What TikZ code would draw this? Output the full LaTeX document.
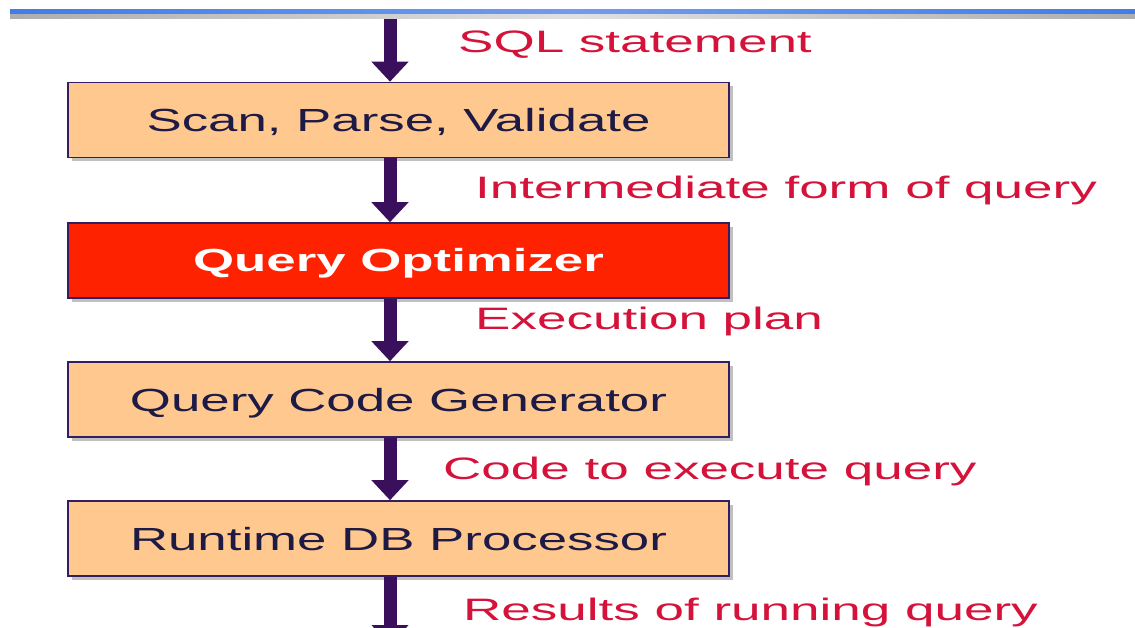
\documentclass[tikz,border=0pt]{standalone}
\usepackage{fontspec}
\setmainfont{Liberation Sans}
\newfontfamily\widefont[FakeStretch=1.65]{Liberation Sans}
\newfontfamily\lblfont[FakeStretch=1.71]{Liberation Sans}
\usetikzlibrary{arrows.meta,shadows}
\definecolor{peach}{RGB}{255,200,142}
\definecolor{optred}{RGB}{255,34,0}
\definecolor{edge}{RGB}{52,30,98}
\definecolor{flow}{RGB}{58,16,92}
\definecolor{lblred}{RGB}{212,18,58}
\definecolor{ink}{RGB}{30,26,70}
\definecolor{barblue}{RGB}{66,124,232}

\begin{document}
\begin{tikzpicture}[x=1pt,y=-1pt,
  stage/.style={draw=edge,line width=1.6pt,fill=peach,minimum width=661pt,minimum height=75pt,
    text height=23pt,text depth=0pt,inner sep=0pt,font=\widefont\fontsize{32}{32}\selectfont,text=ink,
    general shadow={fill=black!45,opacity=0.55,shadow xshift=4pt,shadow yshift=-4pt}},
  flowarrow/.style={flow,line width=13pt,-{Triangle[width=36pt,length=20pt]}},
  lbl/.style={anchor=base west,inner sep=0pt,text=lblred,font=\lblfont\fontsize{31}{31}\selectfont}]
  \useasboundingbox (0,0) rectangle (1135,628);
  \clip (0,0) rectangle (1135,628);
  % title rule
  \shade[left color=barblue,right color=barblue,middle color=barblue!75!white] (10,10) rectangle (1135,13.5);
  \shade[left color=black!32,right color=black!32,middle color=black!12] (10,14.5) rectangle (1135,19);
  % processing stages
  \node[stage] (scan) at (398.5,120) {Scan, Parse, Validate};
  \node[stage,fill=optred,text=white,font=\widefont\bfseries\fontsize{32}{32}\selectfont] (opt) at (398.5,260.5) {Query Optimizer};
  \node[stage] (gen) at (398.5,399.5) {Query Code Generator};
  \node[stage] (run) at (398.5,538.5) {Runtime DB Processor};
  % flow between stages
  \coordinate (in) at (390,19);
  \coordinate (out) at (390,645);
  \draw[flowarrow] (in) -- (scan.north -| in);
  \draw[flowarrow] (scan.south -| in) -- (opt.north -| in);
  \draw[flowarrow] (opt.south -| in) -- (gen.north -| in);
  \draw[flowarrow] (gen.south -| in) -- (run.north -| in);
  \draw[flowarrow] (run.south -| in) -- (out);
  % what flows
  \node[lbl] (sql) at (458,53) {SQL statement};
  \node[lbl] (inter) at (475,199) {Intermediate form of query};
  \node[lbl] (plan) at (475,330) {Execution plan};
  \node[lbl] (code) at (443,479) {Code to execute query};
  \node[lbl] (res) at (463,620) {Results of running query};
\end{tikzpicture}
\end{document}
